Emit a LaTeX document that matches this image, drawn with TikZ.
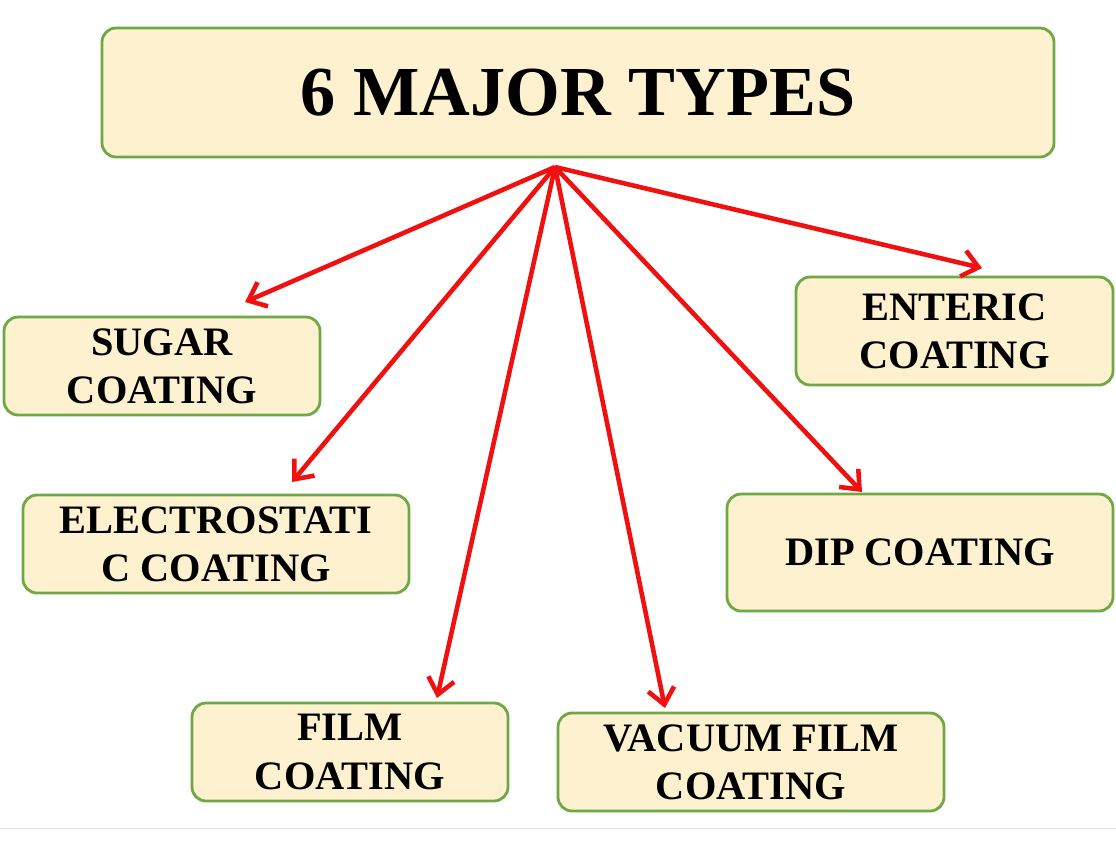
\documentclass[tikz,border=0pt]{standalone}
\usepackage{fontspec}
\setmainfont{Liberation Serif}
\definecolor{boxfill}{HTML}{FDF1CF}
\definecolor{boxline}{HTML}{6FA845}
\definecolor{arrowred}{HTML}{F01010}
\tikzset{
  typebox/.style={draw=boxline, line width=1.6pt, fill=boxfill, rounded corners=8pt,
    align=center, font=\fontsize{23}{27.5}\selectfont\bfseries, inner sep=0pt},
  typearrow/.style={draw=arrowred, line width=2.6pt, -{Straight Barb[length=9pt,width=15pt]}}
}
\usetikzlibrary{arrows.meta}
\begin{document}
\begin{tikzpicture}[x=0.02cm,y=-0.02cm]
   \useasboundingbox (0,0) rectangle (1116,843);
   \fill[white] (0,0) rectangle (1116,843);
   \draw[gray!20] (0,828) -- (1116,828);
   % title
   \path (578,92.5) node[typebox, minimum width=952*0.02cm, minimum height=129*0.02cm,
     font=\fontsize{40}{48}\selectfont\bfseries] (T) {6 MAJOR TYPES};
   \coordinate (hub) at (555,167);
   % coating types
   \path (162,366) node[typebox, minimum width=316*0.02cm, minimum height=98*0.02cm] (sugar) {SUGAR\\COATING};
   \path (216,544) node[typebox, minimum width=386*0.02cm, minimum height=98*0.02cm] (electro) {ELECTROSTATI\\C COATING};
   \path (350,752) node[typebox, minimum width=316*0.02cm, minimum height=98*0.02cm] (film) {FILM\\COATING};
   \path (751,762) node[typebox, minimum width=386*0.02cm, minimum height=98*0.02cm] (vacuum) {VACUUM FILM\\COATING};
   \path (920,552.5) node[typebox, minimum width=386*0.02cm, minimum height=117*0.02cm] (dip) {DIP COATING};
   \path (954.5,331) node[typebox, minimum width=317*0.02cm, minimum height=108*0.02cm] (enteric) {ENTERIC\\COATING};
   \coordinate (sugarT) at (245,302);
   \coordinate (electroT) at (292,482);
   \coordinate (filmT) at (437,698);
   \coordinate (vacuumT) at (665,708);
   \coordinate (dipT) at (862,492);
   \coordinate (entericT) at (982,268);
   \foreach \t in {sugarT,electroT,filmT,vacuumT,dipT,entericT}
     \draw[typearrow] (hub) -- (\t);
\end{tikzpicture}
\end{document}
